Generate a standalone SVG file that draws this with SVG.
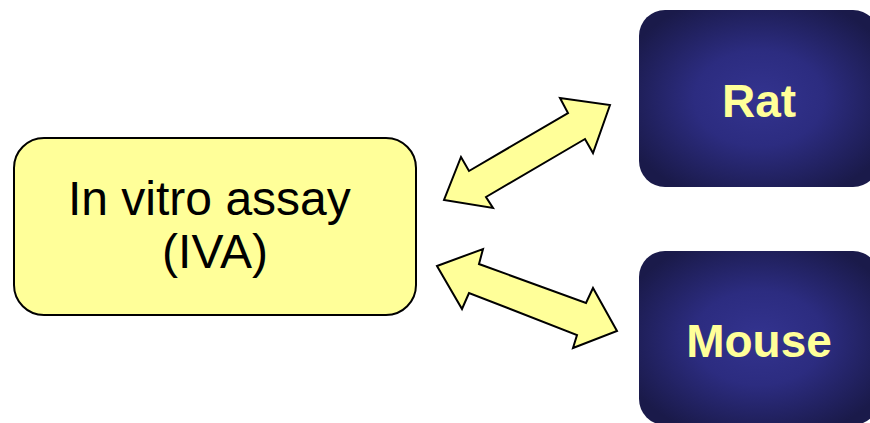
<svg xmlns="http://www.w3.org/2000/svg" width="870" height="423" viewBox="0 0 870 423">
<style>
.yel{fill:#FFFF99;stroke:#000;stroke-width:2;stroke-linejoin:miter}
.dark{fill:url(#dg)}
.lbl{font-family:"Liberation Sans",Arial,sans-serif;font-size:48px;fill:#000}
.dlbl{font-family:"Liberation Sans",Arial,sans-serif;font-size:46px;font-weight:bold;fill:#FFFF99;text-anchor:middle}
</style>
<defs>
<radialGradient id="dg" cx="0.5" cy="0.5" r="0.6">
<stop offset="0" stop-color="#33338F"/>
<stop offset="0.45" stop-color="#2C2C80"/>
<stop offset="1" stop-color="#1A1A4A"/>
</radialGradient>
</defs>
<rect width="870" height="423" fill="#fff"/>
<g id="connectors">
<polygon class="yel" points="610,105 593,153 585,139 486,197 493,208 444,200 461,157 469,171 568,113 560,98"/>
<polygon class="yel" points="437,266 483,249 479,264 586,303 593,288 617,331 573,348 577,335 469,293 462,309"/>
</g>
<g id="iva">
<rect class="yel" x="14" y="138" width="402" height="177" rx="30" ry="30"/>
<text class="lbl" x="68" y="215">In vitro assay</text>
<text class="lbl" x="215" y="268" text-anchor="middle">(IVA)</text>
</g>
<g id="rat">
<rect class="dark" x="639" y="10" width="240" height="177" rx="26" ry="26"/>
<text class="dlbl" x="759" y="117">Rat</text>
</g>
<g id="mouse">
<rect class="dark" x="639" y="251" width="240" height="174" rx="26" ry="26"/>
<text class="dlbl" x="759" y="357">Mouse</text>
</g>
</svg>
